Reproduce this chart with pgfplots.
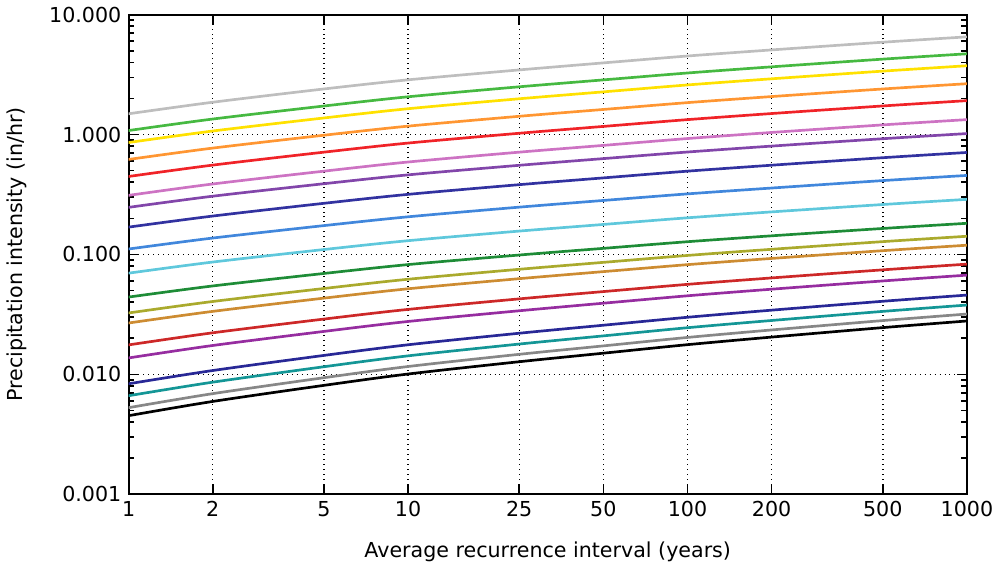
\documentclass[border=0pt]{standalone}
\usepackage{pgfplots}
\pgfplotsset{compat=1.18}
\usepackage{pgfplotstable}
\usepackage{fontspec}
\setmainfont{DejaVu Sans}
\setsansfont{DejaVu Sans}

\definecolor{c1}{RGB}{190,190,190}
\definecolor{c2}{RGB}{70,185,65}
\definecolor{c3}{RGB}{255,225,0}
\definecolor{c4}{RGB}{255,150,50}
\definecolor{c5}{RGB}{240,35,40}
\definecolor{c6}{RGB}{205,115,195}
\definecolor{c7}{RGB}{130,70,170}
\definecolor{c8}{RGB}{50,50,160}
\definecolor{c9}{RGB}{65,135,220}
\definecolor{c10}{RGB}{95,200,220}
\definecolor{c11}{RGB}{30,140,55}
\definecolor{c12}{RGB}{170,170,45}
\definecolor{c13}{RGB}{205,140,50}
\definecolor{c14}{RGB}{205,40,40}
\definecolor{c15}{RGB}{150,45,160}
\definecolor{c16}{RGB}{40,40,150}
\definecolor{c17}{RGB}{20,150,150}
\definecolor{c18}{RGB}{135,135,135}
\definecolor{c19}{RGB}{0,0,0}

% intensity (in/hr) vs average recurrence interval (years), one column per curve
\pgfplotstableread{
ari  a      b      c      d      e      f      g      h      i      j      k       l       m       n       o       p        q        r        s
1    1.49   1.080  0.858  0.620  0.447  0.311  0.247  0.169  0.111  0.0698 0.0441  0.0325  0.0268  0.0176  0.0137  0.00834  0.00663  0.00527  0.00452
2    1.86   1.347  1.070  0.771  0.556  0.387  0.306  0.209  0.137  0.0864 0.0546  0.0405  0.0335  0.0222  0.0174  0.01076  0.00860  0.00690  0.00594
5    2.40   1.730  1.375  0.987  0.713  0.495  0.389  0.267  0.174  0.1099 0.0694  0.0520  0.0432  0.0289  0.0228  0.01438  0.01157  0.00937  0.00809
10   2.86   2.065  1.642  1.175  0.849  0.590  0.461  0.317  0.206  0.1302 0.0823  0.0621  0.0517  0.0348  0.0276  0.01764  0.01426  0.01162  0.01006
25   3.46   2.502  1.988  1.420  1.025  0.713  0.554  0.382  0.248  0.1566 0.0989  0.0752  0.0628  0.0426  0.0339  0.02202  0.01789  0.01469  0.01274
50   3.96   2.857  2.270  1.619  1.169  0.812  0.630  0.435  0.282  0.1779 0.1124  0.0859  0.0719  0.0490  0.0392  0.02568  0.02093  0.01727  0.01501
100  4.52   3.262  2.593  1.846  1.332  0.926  0.715  0.495  0.320  0.2021 0.1277  0.0981  0.0822  0.0563  0.0452  0.02992  0.02448  0.02031  0.01768
200  5.08   3.671  2.917  2.074  1.497  1.041  0.801  0.555  0.358  0.2264 0.1430  0.1104  0.0926  0.0637  0.0513  0.03430  0.02813  0.02345  0.02045
500  5.89   4.256  3.381  2.399  1.732  1.204  0.923  0.641  0.413  0.2609 0.1647  0.1279  0.1075  0.0744  0.0601  0.04068  0.03350  0.02808  0.02453
1000 6.53   4.716  3.749  2.655  1.918  1.332  1.019  0.709  0.456  0.2881 0.1819  0.1418  0.1194  0.0830  0.0672  0.04582  0.03784  0.03184  0.02786
}\idf

\begin{document}
\begin{tikzpicture}
\begin{loglogaxis}[
    scale only axis,
    width=14.3cm, height=8.18cm,
    xmin=1, xmax=1000, ymin=0.001, ymax=10,
    xtick={1,2,5,10,25,50,100,200,500,1000},
    xticklabels={1,2,5,10,25,50,100,200,500,1000},
    ytick={0.001,0.01,0.1,1,10},
    yticklabels={0.001,0.010,0.100,1.000,10.000},
    minor tick num=0,
    minor xtick={}, minor ytick={},
    tick align=inside,
    major tick length=5pt,
    tick style={black, line width=0.8pt},
    grid=major,
    major grid style={black, dotted, line width=0.7pt},
    axis line style={line width=1pt},
    xlabel={Average recurrence interval (years)},
    ylabel={Precipitation intensity (in/hr)},
    xlabel style={yshift=-5pt},
    ylabel style={yshift=4pt},
    tick label style={font=\fontsize{10}{12}\selectfont},
    label style={font=\fontsize{10}{12}\selectfont},
    every axis plot/.append style={line width=1.3pt, no markers, smooth},
]
\addplot[c1]  table[y=a] {\idf};
\addplot[c2]  table[y=b] {\idf};
\addplot[c3]  table[y=c] {\idf};
\addplot[c4]  table[y=d] {\idf};
\addplot[c5]  table[y=e] {\idf};
\addplot[c6]  table[y=f] {\idf};
\addplot[c7]  table[y=g] {\idf};
\addplot[c8]  table[y=h] {\idf};
\addplot[c9]  table[y=i] {\idf};
\addplot[c10] table[y=j] {\idf};
\addplot[c11] table[y=k] {\idf};
\addplot[c12] table[y=l] {\idf};
\addplot[c13] table[y=m] {\idf};
\addplot[c14] table[y=n] {\idf};
\addplot[c15] table[y=o] {\idf};
\addplot[c16] table[y=p] {\idf};
\addplot[c17] table[y=q] {\idf};
\addplot[c18] table[y=r] {\idf};
\addplot[c19] table[y=s] {\idf};
\end{loglogaxis}
\end{tikzpicture}
\end{document}
